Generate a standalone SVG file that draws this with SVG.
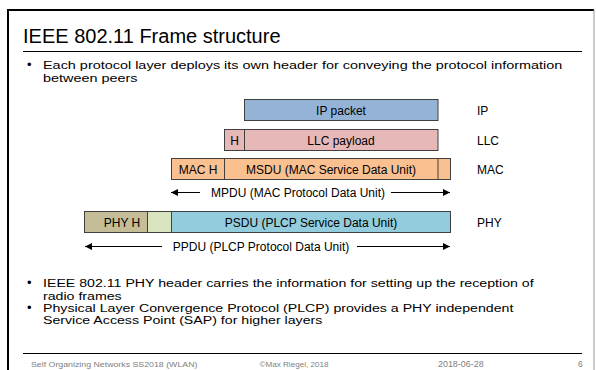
<svg xmlns="http://www.w3.org/2000/svg" width="596" height="370" viewBox="0 0 596 370">
  <defs>
    <marker id="tip" viewBox="0 0 10 10" refX="10" refY="5" markerWidth="7" markerHeight="7" markerUnits="userSpaceOnUse" orient="auto-start-reverse">
      <path d="M0,0 L10,5 L0,10 z" fill="#000"/>
    </marker>
  </defs>
  <style>
    text { font-family: "Liberation Sans", Arial, sans-serif; fill: #000; }
    .title { font-size: 20px; }
    .body { font-size: 13px; }
    .box { stroke: #404040; stroke-width: 1; }
    .lbl { font-size: 12px; text-anchor: middle; }
    .layer { font-size: 12px; }
    .foot { fill: #808080; }
    .conn { stroke: #000; stroke-width: 1; fill: none; }
  </style>
  <rect x="0" y="0" width="596" height="370" fill="#fff"/>

  <!-- slide frame -->
  <path d="M8,370 V10 H594" fill="none" stroke="#000" stroke-width="2"/>
  <line x1="594" y1="10" x2="594" y2="370" stroke="#999" stroke-width="1"/>

  <!-- title -->
  <text class="title" x="23" y="43">IEEE 802.11 Frame structure</text>
  <line x1="23" y1="51.5" x2="582" y2="51.5" stroke="#000" stroke-width="1"/>

  <!-- upper bullet -->
  <text class="body" x="27" y="69">•</text>
  <text class="body" transform="translate(43,69) scale(1.11,0.9)">Each protocol layer deploys its own header for conveying the protocol information</text>
  <text class="body" transform="translate(43,81.5) scale(1.11,0.9)">between peers</text>

  <!-- IP layer -->
  <g id="ip">
    <rect class="box" x="244.5" y="99.5" width="193.5" height="21" fill="#95B3D7"/>
    <text class="lbl" x="341" y="114.5">IP packet</text>
    <text class="layer" x="477" y="114.5">IP</text>
  </g>

  <!-- LLC layer -->
  <g id="llc">
    <rect class="box" x="224.5" y="129.5" width="213.5" height="21" fill="#E6B9B8"/>
    <line class="box" x1="244.5" y1="129.5" x2="244.5" y2="150.5"/>
    <text class="lbl" x="234.5" y="144.5">H</text>
    <text class="lbl" x="341" y="144.5">LLC payload</text>
    <text class="layer" x="477" y="144.5">LLC</text>
  </g>

  <!-- MAC layer -->
  <g id="mac">
    <rect class="box" x="171.5" y="158.5" width="279" height="21" fill="#FAC090"/>
    <line class="box" x1="224.5" y1="158.5" x2="224.5" y2="179.5"/>
    <line class="box" x1="438" y1="158.5" x2="438" y2="179.5"/>
    <text class="lbl" x="198" y="173.5">MAC H</text>
    <text class="lbl" x="331" y="173.5">MSDU (MAC Service Data Unit)</text>
    <text class="layer" x="477" y="173.5">MAC</text>
  </g>

  <!-- PHY layer -->
  <g id="phy">
    <rect class="box" x="84.5" y="211.5" width="63" height="21" fill="#C4BD97"/>
    <rect class="box" x="147.5" y="211.5" width="24" height="21" fill="#D7E4BD"/>
    <rect class="box" x="171.5" y="211.5" width="279" height="21" fill="#93CDDD"/>
    <text class="lbl" x="122" y="226.5">PHY H</text>
    <text class="lbl" x="311" y="226.5">PSDU (PLCP Service Data Unit)</text>
    <text class="layer" x="477" y="226.5">PHY</text>
  </g>

  <!-- span labels -->
  <g id="mpdu">
    <text class="lbl" x="298" y="196.5">MPDU (MAC Protocol Data Unit)</text>
  </g>
  <g id="ppdu">
    <text class="lbl" x="261" y="250.5">PPDU (PLCP Protocol Data Unit)</text>
  </g>

  <g id="connectors">
    <line class="conn" x1="200" y1="192.5" x2="171" y2="192.5" marker-end="url(#tip)"/>
    <line class="conn" x1="391" y1="192.5" x2="450" y2="192.5" marker-end="url(#tip)"/>
    <line class="conn" x1="162" y1="246.5" x2="85" y2="246.5" marker-end="url(#tip)"/>
    <line class="conn" x1="357" y1="246.5" x2="450" y2="246.5" marker-end="url(#tip)"/>
  </g>

  <!-- lower bullets -->
  <text class="body" x="27" y="287">•</text>
  <text class="body" transform="translate(43,287) scale(1.09,0.9)">IEEE 802.11 PHY header carries the information for setting up the reception of</text>
  <text class="body" transform="translate(43,299.5) scale(1.09,0.9)">radio frames</text>
  <text class="body" x="27" y="311.5">•</text>
  <text class="body" transform="translate(43,311.5) scale(1.09,0.9)">Physical Layer Convergence Protocol (PLCP) provides a PHY independent</text>
  <text class="body" transform="translate(43,324) scale(1.09,0.9)">Service Access Point (SAP) for higher layers</text>

  <!-- footer -->
  <line x1="23" y1="353.5" x2="582" y2="353.5" stroke="#000" stroke-width="1"/>
  <text class="foot" font-size="8" transform="translate(31,367) scale(1.1,1)">Self Organizing Networks SS2018 (WLAN)</text>
  <text class="foot" font-size="6.5" text-anchor="middle" transform="translate(294,367) scale(1.25,1)">©Max Riegel, 2018</text>
  <text class="foot" font-size="8.5" transform="translate(438,367) scale(1.05,1)">2018-06-28</text>
  <text class="foot" font-size="8.5" x="578" y="367">6</text>
</svg>
